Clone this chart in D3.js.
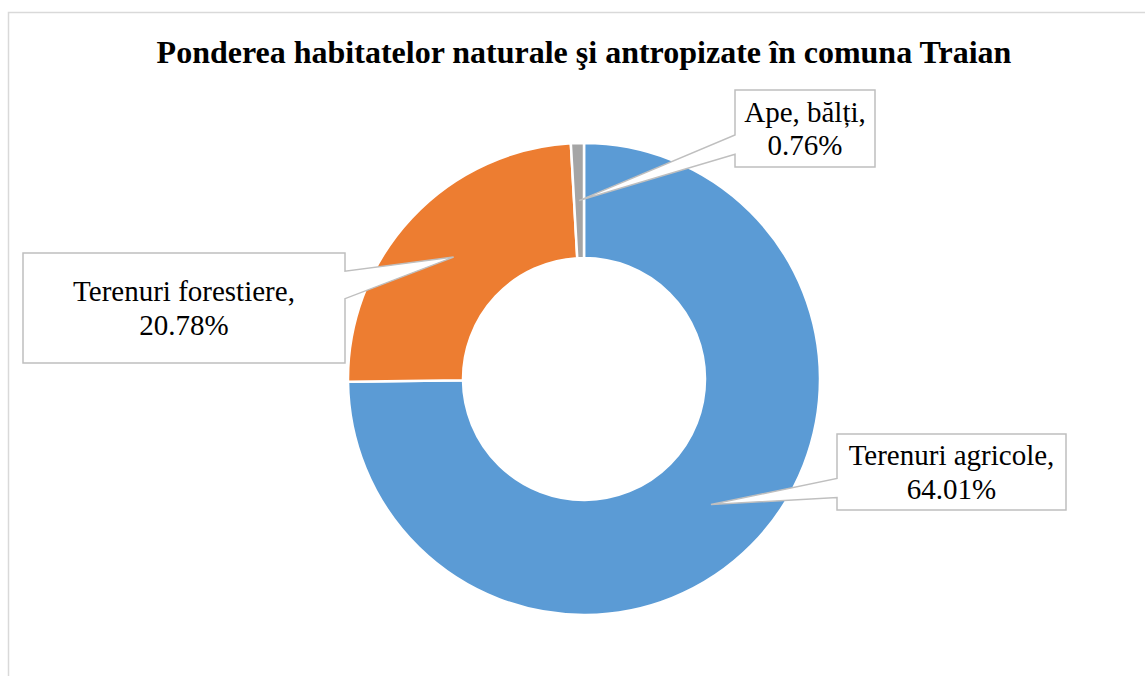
<!DOCTYPE html>
<html>
<head>
<meta charset="utf-8">
<script src="https://cdn.jsdelivr.net/npm/d3@7"></script>
<style>
  body { margin: 0; background: #fff; }
  text { font-family: "Liberation Serif", "Times New Roman", serif; fill: #000; }
</style>
</head>
<body>
<div class="chart"></div>
<script>
const width = 1145;
const height = 676;

// data
const categories = ["Terenuri agricole", "Terenuri forestiere", "Ape, bălți"];
const values = [64.01, 20.78, 0.76];
const colors = ["#5B9BD5", "#ED7D31", "#A5A5A5"];

// label box layout (x, y, w, h)
const boxes = [
   { x: 837, y: 434, w: 229, h: 76 },
   { x: 23, y: 253, w: 322, h: 110 },
   { x: 735, y: 90, w: 140, h: 77 }
];

const cx = 584;
const cy = 379;
const outerR = 236;
const innerR = 121;

const svg = d3.select(".chart")
   .append("svg")
   .attr("width", width)
   .attr("height", height);

// chart border
svg.append("rect")
   .attr("x", 8.5)
   .attr("y", 12.5)
   .attr("width", width)
   .attr("height", height)
   .attr("fill", "none")
   .attr("stroke", "#d9d9d9")
   .attr("stroke-width", 1.5);

svg.append("text")
   .attr("x", cx)
   .attr("y", 63)
   .attr("text-anchor", "middle")
   .style("font-size", "32px")
   .style("font-weight", "bold")
   .text("Ponderea habitatelor naturale şi antropizate în comuna Traian");

const data = categories.map((c, i) => ({ name: c, value: values[i], color: colors[i], box: boxes[i] }));

const pie = d3.pie().sort(null).value((d) => d.value);
const arc = d3.arc().innerRadius(innerR).outerRadius(outerR);
const arcs = pie(data);

const g = svg.append("g").attr("transform", `translate(${cx}, ${cy})`);

g.selectAll("path")
   .data(arcs)
   .enter()
   .append("path")
   .attr("d", arc)
   .attr("fill", (d) => d.data.color)
   .attr("stroke", "#fff")
   .attr("stroke-width", 2.5);

// callout boxes with pointer to slice centroid
function calloutPath(b, tip) {
   const mid = b.y + b.h / 2;
   const dir = tip[1] > mid ? 1 : -1;
   const bc = mid + dir * 0.21 * b.h;
   const hw = 0.125 * b.h;
   const b1 = bc - hw;
   const b2 = bc + hw;
   let pts;
   if (tip[0] < b.x) {
      pts = [[b.x, b.y], [b.x + b.w, b.y], [b.x + b.w, b.y + b.h], [b.x, b.y + b.h], [b.x, b2], tip, [b.x, b1]];
   } else {
      pts = [[b.x, b.y], [b.x + b.w, b.y], [b.x + b.w, b1], tip, [b.x + b.w, b2], [b.x + b.w, b.y + b.h], [b.x, b.y + b.h]];
   }
   return "M" + pts.map((p) => p.join(",")).join("L") + "Z";
}

const labels = svg.selectAll(".label")
   .data(arcs)
   .enter()
   .append("g")
   .attr("class", "label");

labels.append("path")
   .attr("d", (d) => {
      const c = arc.centroid(d);
      return calloutPath(d.data.box, [c[0] + cx, c[1] + cy]);
   })
   .attr("fill", "#fff")
   .attr("stroke", "#bfbfbf")
   .attr("stroke-width", 1.5)
   .attr("stroke-linejoin", "miter");

labels.append("text")
   .attr("x", (d) => d.data.box.x + d.data.box.w / 2)
   .attr("y", (d) => d.data.box.y + d.data.box.h / 2 - 7)
   .attr("text-anchor", "middle")
   .style("font-size", "29px")
   .text((d) => d.data.name + ",");

labels.append("text")
   .attr("x", (d) => d.data.box.x + d.data.box.w / 2)
   .attr("y", (d) => d.data.box.y + d.data.box.h / 2 + 26.5)
   .attr("text-anchor", "middle")
   .style("font-size", "29px")
   .text((d) => d3.format(".2f")(d.data.value) + "%");
</script>
</body>
</html>
